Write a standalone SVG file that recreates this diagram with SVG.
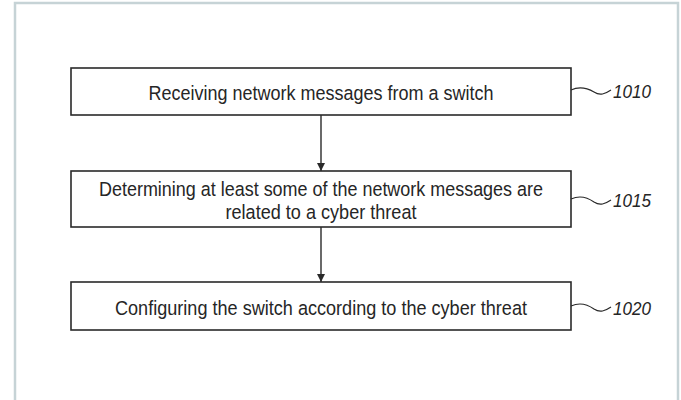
<svg xmlns="http://www.w3.org/2000/svg" width="681" height="400" viewBox="0 0 681 400">
  <style>
    .frame { fill: #ffffff; stroke: #c6d3d6; stroke-width: 2.5; }
    .box { fill: #ffffff; stroke: #2a2a2a; stroke-width: 1.6; }
    .label { font-family: "Liberation Sans", Arial, sans-serif; font-size: 20.5px; fill: #262626; text-anchor: middle; }
    .ref { font-family: "Liberation Sans", Arial, sans-serif; font-size: 18.5px; font-style: italic; fill: #262626; }
    .edge { fill: none; stroke: #2a2a2a; stroke-width: 1.4; }
    .lead { fill: none; stroke: #2a2a2a; stroke-width: 1.2; }
  </style>
  <defs>
    <marker id="arrow" viewBox="0 0 10 10" refX="10" refY="5" markerWidth="8" markerHeight="8" markerUnits="userSpaceOnUse" orient="auto">
      <path d="M0,0 L10,5 L0,10 Z" fill="#2a2a2a"/>
    </marker>
  </defs>

  <rect class="frame" x="15" y="3" width="663" height="410"/>

  <g id="connectors">
    <line class="edge" x1="321" y1="115" x2="321" y2="171" marker-end="url(#arrow)"/>
    <line class="edge" x1="321" y1="227" x2="321" y2="282" marker-end="url(#arrow)"/>
  </g>

  <g id="step-1010">
    <rect class="box" x="71" y="68" width="500" height="47"/>
    <text class="label" x="321" y="99.5" textLength="345" lengthAdjust="spacingAndGlyphs">Receiving network messages from a switch</text>
    <path class="lead" d="M571,90 C580,86 587,88 594,92 C600,96 605,94 611,90"/>
    <text class="ref" x="613" y="97.5" textLength="38" lengthAdjust="spacingAndGlyphs">1010</text>
  </g>

  <g id="step-1015">
    <rect class="box" x="71" y="171" width="500" height="56"/>
    <text class="label" x="321" y="195.5" textLength="444" lengthAdjust="spacingAndGlyphs">Determining at least some of the network messages are</text>
    <text class="label" x="321" y="218.5" textLength="191" lengthAdjust="spacingAndGlyphs">related to a cyber threat</text>
    <path class="lead" d="M571,199 C580,195 587,197 594,202 C600,206 605,204 611,200"/>
    <text class="ref" x="613" y="207" textLength="38" lengthAdjust="spacingAndGlyphs">1015</text>
  </g>

  <g id="step-1020">
    <rect class="box" x="71" y="282" width="500" height="48"/>
    <text class="label" x="321" y="315" textLength="412" lengthAdjust="spacingAndGlyphs">Configuring the switch according to the cyber threat</text>
    <path class="lead" d="M571,306 C580,302 587,304 594,309 C600,313 605,311 611,307"/>
    <text class="ref" x="613" y="315" textLength="38" lengthAdjust="spacingAndGlyphs">1020</text>
  </g>
</svg>
